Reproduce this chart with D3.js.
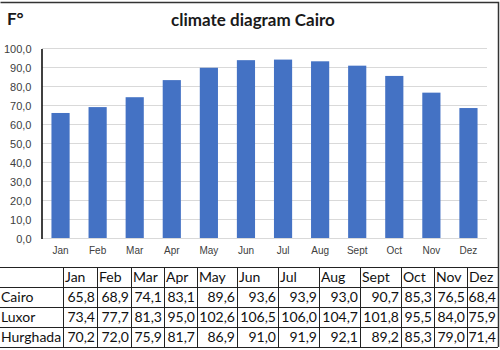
<!DOCTYPE html>
<html>
<head>
<meta charset="utf-8">
<script src="https://cdn.jsdelivr.net/npm/d3@7"></script>
<style>
  body { margin: 0; background: #fff; }
  svg { display: block; }
</style>
</head>
<body>
<div id="chart"></div>
<script>
// data
const months = ["Jan", "Feb", "Mar", "Apr", "May", "Jun", "Jul", "Aug", "Sept", "Oct", "Nov", "Dez"];
const cairo = [65.8, 68.9, 74.1, 83.1, 89.6, 93.6, 93.9, 93.0, 90.7, 85.3, 76.5, 68.4];
const luxor = [73.4, 77.7, 81.3, 95.0, 102.6, 106.5, 106.0, 104.7, 101.8, 95.5, 84.0, 75.9];
const hurghada = [70.2, 72.0, 75.9, 81.7, 86.9, 91.0, 91.9, 92.1, 89.2, 85.3, 79.0, 71.4];
const cities = ["Cairo", "Luxor", "Hurghada"];
const yTicks = [0, 10, 20, 30, 40, 50, 60, 70, 80, 90, 100];

const W = 500, H = 350;
const fmt = v => d3.format(".1f")(v).replace(".", ",");

const svg = d3.select("#chart").append("svg")
    .attr("width", W)
    .attr("height", H)
    .style("font-family", "Lato, 'Open Sans', sans-serif");

// scales
const x = d3.scaleBand()
    .domain(months)
    .range([42, 487])
    .paddingInner(0.51)
    .paddingOuter(0.255);

const y = d3.scaleLinear()
    .domain([0, 100])
    .range([238, 48]);

// gridlines
svg.append("g")
    .selectAll("line")
    .data(yTicks)
    .join("line")
    .attr("x1", 42)
    .attr("x2", 487)
    .attr("y1", d => Math.round(y(d)) + 0.5)
    .attr("y2", d => Math.round(y(d)) + 0.5)
    .attr("stroke", "#d9d9d9");

// y axis labels
const yAxis = svg.append("g")
    .attr("transform", "translate(41.5,0.5)")
    .call(d3.axisLeft(y).tickValues(yTicks).tickFormat(fmt).tickSize(0).tickPadding(10));
yAxis.select(".domain").attr("stroke", "#000").attr("stroke-width", 1.5);
yAxis.selectAll("text")
    .attr("fill", "#404040")
    .style("font-size", "11px");

// bars
svg.append("g")
    .selectAll("rect")
    .data(cairo)
    .join("rect")
    .attr("x", (d, i) => x(months[i]))
    .attr("y", d => y(d))
    .attr("width", x.bandwidth())
    .attr("height", d => y(0) - y(d))
    .attr("fill", "#4472c4");

// x axis labels
const xAxis = svg.append("g")
    .attr("transform", "translate(0,238)")
    .call(d3.axisBottom(x).tickSize(0).tickPadding(9));
xAxis.select(".domain").remove();
xAxis.selectAll("text")
    .attr("fill", "#404040")
    .style("font-size", "10px");

// title and unit
svg.append("text")
    .attr("x", 253)
    .attr("y", 26)
    .attr("text-anchor", "middle")
    .attr("font-weight", "bold")
    .style("font-size", "17px")
    .attr("fill", "#1a1a1a")
    .text("climate diagram Cairo");

svg.append("text")
    .attr("x", 7)
    .attr("y", 25)
    .attr("font-weight", "bold")
    .style("font-size", "17px")
    .attr("fill", "#1a1a1a")
    .text("F°");

// table
const colEdges = [0, 63, 97, 131, 164, 197, 237, 278, 319, 360, 401, 434, 467, 498];
const rowEdges = [267, 287, 307, 327, 347];
const rows = [cairo, luxor, hurghada];

const table = svg.append("g");

table.selectAll("line.h")
    .data(rowEdges)
    .join("line")
    .attr("class", "h")
    .attr("x1", 0)
    .attr("x2", 498)
    .attr("y1", d => d + 0.5)
    .attr("y2", d => d + 0.5)
    .attr("stroke", "#222");

table.selectAll("line.v")
    .data(colEdges.slice(1))
    .join("line")
    .attr("class", "v")
    .attr("x1", d => d + 0.5)
    .attr("x2", d => d + 0.5)
    .attr("y1", 267)
    .attr("y2", 347)
    .attr("stroke", "#222");

// header
table.selectAll("text.head")
    .data(months)
    .join("text")
    .attr("class", "head")
    .attr("x", (d, i) => colEdges[i + 1] + 2)
    .attr("y", rowEdges[0] + 15)
    .style("font-size", "14px")
    .attr("fill", "#111")
    .text(d => d);

rows.forEach((vals, r) => {
    table.append("text")
        .attr("x", 1)
        .attr("y", rowEdges[r + 1] + 15)
        .style("font-size", "14px")
        .attr("fill", "#111")
        .text(cities[r]);
    table.selectAll("text.v" + r)
        .data(vals)
        .join("text")
        .attr("class", "v" + r)
        .attr("x", (d, i) => colEdges[i + 2] - 2)
        .attr("y", rowEdges[r + 1] + 15)
        .attr("text-anchor", "end")
        .style("font-size", "14px")
        .attr("fill", "#111")
        .text(fmt);
});

// chart frame
svg.append("path")
    .attr("d", "M0.5,2.5H498.5V347")
    .attr("fill", "none")
    .attr("stroke", "#333")
    .attr("stroke-width", 1.5);
</script>
</body>
</html>
